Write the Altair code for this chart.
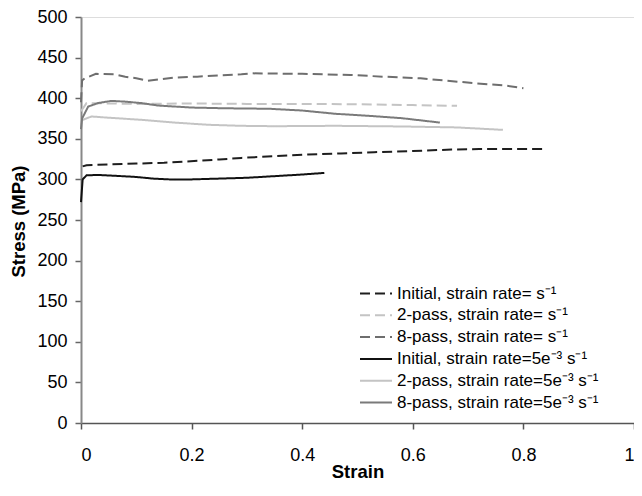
import altair as alt
import pandas as pd

labels = [
    "Initial, strain rate= s\u207b\u00b9",
    "2-pass, strain rate= s\u207b\u00b9",
    "8-pass, strain rate= s\u207b\u00b9",
    "Initial, strain rate=5e\u207b\u00b3 s\u207b\u00b9",
    "2-pass, strain rate=5e\u207b\u00b3 s\u207b\u00b9",
    "8-pass, strain rate=5e\u207b\u00b3 s\u207b\u00b9",
]

init_fast_x = [0.003, 0.01, 0.05, 0.1, 0.15, 0.19, 0.25, 0.29, 0.35, 0.41, 0.47, 0.53, 0.6, 0.67, 0.72, 0.78, 0.835]
init_fast_y = [316, 317.5, 318.5, 319.5, 320.5, 322, 324.5, 326.5, 328.6, 330.6, 332, 333.5, 335, 336.7, 337.3, 337.5, 337.5]

two_fast_x = [0.0, 0.01, 0.05, 0.1, 0.2, 0.3, 0.4, 0.5, 0.6, 0.68]
two_fast_y = [384, 394, 393.5, 393, 393.5, 393, 393, 392.5, 391.5, 390.6]

eight_fast_x = [0.0, 0.002, 0.007, 0.027, 0.06, 0.08, 0.1, 0.12, 0.167, 0.21, 0.25, 0.29, 0.31, 0.4, 0.487, 0.547, 0.614, 0.66, 0.714, 0.768, 0.8]
eight_fast_y = [395, 422, 424.5, 430, 429.4, 426.5, 424.5, 421.5, 425.3, 426.5, 428, 429.4, 430.6, 430, 428.6, 426.5, 424.5, 421.6, 418.4, 415.5, 412.2]

init_slow_x = [0.0, 0.003, 0.01, 0.03, 0.06, 0.1, 0.13, 0.16, 0.2, 0.25, 0.3, 0.35, 0.4, 0.44]
init_slow_y = [272, 300, 305, 305.5, 304.5, 303, 301, 300, 300, 301, 302, 304, 306, 308]

two_slow_x = [0.0, 0.002, 0.019, 0.049, 0.109, 0.169, 0.229, 0.289, 0.349, 0.46, 0.58, 0.68, 0.763]
two_slow_y = [365, 373, 377.5, 376, 373.4, 370, 367.3, 366, 365.5, 366, 365.2, 364, 361]

eight_slow_x = [0.0, 0.002, 0.013, 0.031, 0.055, 0.079, 0.109, 0.139, 0.199, 0.259, 0.34, 0.4, 0.46, 0.52, 0.58, 0.649]
eight_slow_y = [362, 375, 389.7, 394, 396.7, 395.8, 394, 391, 388.5, 387.6, 387, 384.8, 380.8, 378.3, 375.4, 370]

series_x = [init_fast_x, two_fast_x, eight_fast_x, init_slow_x, two_slow_x, eight_slow_x]
series_y = [init_fast_y, two_fast_y, eight_fast_y, init_slow_y, two_slow_y, eight_slow_y]

x_ticks = [0, 0.2, 0.4, 0.6, 0.8, 1]
y_ticks = list(range(0, 501, 50))

colors = ["#1e1e1e", "#c4c4c4", "#6e6e6e", "#111111", "#c4c4c4", "#7a7a7a"]
dashes = [[10, 5], [10, 5], [10, 5], [1, 0], [1, 0], [1, 0]]

rows = []
for name, xs, ys in zip(labels, series_x, series_y):
    for i, (x, y) in enumerate(zip(xs, ys)):
        rows.append({"series": name, "strain": x, "stress": y, "idx": i})
df = pd.DataFrame(rows)

font = "Liberation Sans"

legend = alt.Legend(
    title=None,
    orient="none",
    legendX=278,
    legendY=269,
    symbolType="stroke",
    symbolSize=1024,
    symbolStrokeWidth=2,
    clipHeight=15,
    rowPadding=3.8,
    labelOffset=4,
    labelFont=font,
    labelFontSize=17,
    labelColor="#000",
    labelLimit=400,
)

chart = alt.Chart(df).mark_line(strokeWidth=2).encode(
    x=alt.X(
        "strain:Q",
        scale=alt.Scale(domain=[0, 1], nice=False, zero=False),
        axis=alt.Axis(
            values=x_ticks,
            format="~g",
            title="Strain",
            grid=False,
            tickSize=6,
            labelPadding=17,
            labelFontSize=18,
            labelFont=font,
            labelColor="#000",
            titleFont=font,
            titleFontSize=18.5,
            titleFontWeight="bold",
            titleColor="#000",
            titleY=48,
            titleBaseline="middle",
            domainColor="#555",
            domainWidth=1.5,
            tickColor="#555",
            tickWidth=1.5,
        ),
    ),
    y=alt.Y(
        "stress:Q",
        scale=alt.Scale(domain=[0, 500], nice=False),
        axis=alt.Axis(
            values=y_ticks,
            title="Stress (MPa)",
            grid=False,
            tickSize=6,
            labelPadding=8,
            labelFontSize=18,
            labelFont=font,
            labelColor="#000",
            titleFont=font,
            titleFontSize=18.5,
            titleFontWeight="bold",
            titleColor="#000",
            titleX=-63,
            titleY=204,
            titleAngle=270,
            titleAlign="center",
            titleBaseline="middle",
            domainColor="#888",
            domainWidth=2,
            tickColor="#666",
            tickWidth=1.5,
        ),
    ),
    color=alt.Color("series:N", scale=alt.Scale(domain=labels, range=colors), legend=legend),
    strokeDash=alt.StrokeDash("series:N", scale=alt.Scale(domain=labels, range=dashes), legend=legend),
    order="idx:Q",
).properties(
    width=553,
    height=406,
    autosize=alt.AutoSizeParams(type="none"),
    padding={"left": 73, "top": 9, "right": 0, "bottom": 65},
).configure_view(stroke=None).configure(background="white")

chart.save("out.html", embed_options={"renderer": "svg", "actions": False})
